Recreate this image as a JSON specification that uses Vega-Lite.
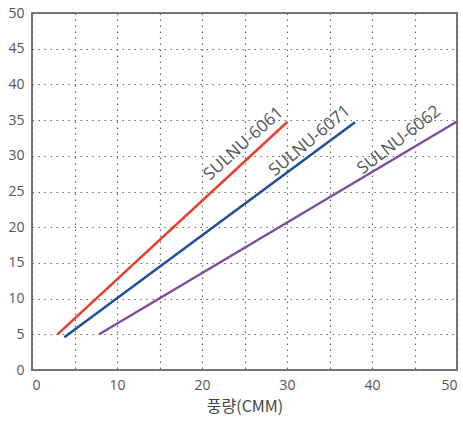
{
  "$schema": "https://vega.github.io/schema/vega-lite/v6.json",
  "autosize": "none",
  "width": 425,
  "height": 357,
  "padding": {"left": 32, "top": 13, "right": 6, "bottom": 53},
  "background": "white",
  "config": {
    "view": {"stroke": "#777", "strokeWidth": 2},
    "font": "Open Sans"
  },
  "datasets": {
    "lines": [
      {"series": "SULNU-6061", "cmm": 3.0, "val": 5.0},
      {"series": "SULNU-6061", "cmm": 30.0, "val": 34.7},
      {"series": "SULNU-6071", "cmm": 3.8, "val": 4.6},
      {"series": "SULNU-6071", "cmm": 38.0, "val": 34.7},
      {"series": "SULNU-6062", "cmm": 7.9, "val": 5.0},
      {"series": "SULNU-6062", "cmm": 50.0, "val": 34.8}
    ],
    "labels": [
      {"series": "SULNU-6061", "cmm": 24.9, "val": 31.7},
      {"series": "SULNU-6071", "cmm": 32.7, "val": 32.1},
      {"series": "SULNU-6062", "cmm": 43.2, "val": 32.2}
    ]
  },
  "encoding": {
    "x": {
      "field": "cmm", "type": "quantitative",
      "scale": {"domain": [0, 50], "nice": false},
      "axis": {
        "title": "풍량(CMM)",
        "titleFont": "Noto Sans CJK KR",
        "titleFontSize": 16,
        "titleFontWeight": "normal",
        "titleColor": "#444",
        "titlePadding": 6,
        "values": [0, 5, 10, 15, 20, 25, 30, 35, 40, 45, 50],
        "labelExpr": "datum.value % 10 == 0 ? datum.label : ''",
        "labelOverlap": false,
        "labelFontSize": 14,
        "labelColor": "#555",
        "labelPadding": 8,
        "ticks": false,
        "domain": false,
        "grid": true,
        "gridColor": "#666",
        "gridDash": [1.5, 4.5],
        "gridWidth": 1.2
      }
    },
    "y": {
      "field": "val", "type": "quantitative",
      "scale": {"domain": [0, 50], "nice": false},
      "axis": {
        "title": null,
        "values": [0, 5, 10, 15, 20, 25, 30, 35, 40, 45, 50],
        "labelExpr": "datum.label",
        "labelOverlap": false,
        "labelFontSize": 14,
        "labelColor": "#555",
        "labelPadding": 8,
        "ticks": false,
        "domain": false,
        "grid": true,
        "gridColor": "#666",
        "gridDash": [1.5, 4.5],
        "gridWidth": 1.2
      }
    }
  },
  "layer": [
    {
      "data": {"name": "lines"},
      "mark": {"type": "line", "strokeWidth": 2.5},
      "encoding": {
        "color": {
          "field": "series", "type": "nominal",
          "scale": {"domain": ["SULNU-6061", "SULNU-6071", "SULNU-6062"], "range": ["#e8402a", "#1f4e9a", "#7b4f9e"]},
          "legend": null
        }
      }
    },
    {
      "data": {"name": "labels"},
      "mark": {"type": "text", "fontSize": 17, "color": "#555", "align": "center", "baseline": "middle"},
      "encoding": {
        "text": {"field": "series"},
        "angle": {
          "field": "series", "type": "nominal",
          "scale": {"domain": ["SULNU-6061", "SULNU-6071", "SULNU-6062"], "range": [318, 322, 327]},
          "legend": null
        }
      }
    }
  ]
}
